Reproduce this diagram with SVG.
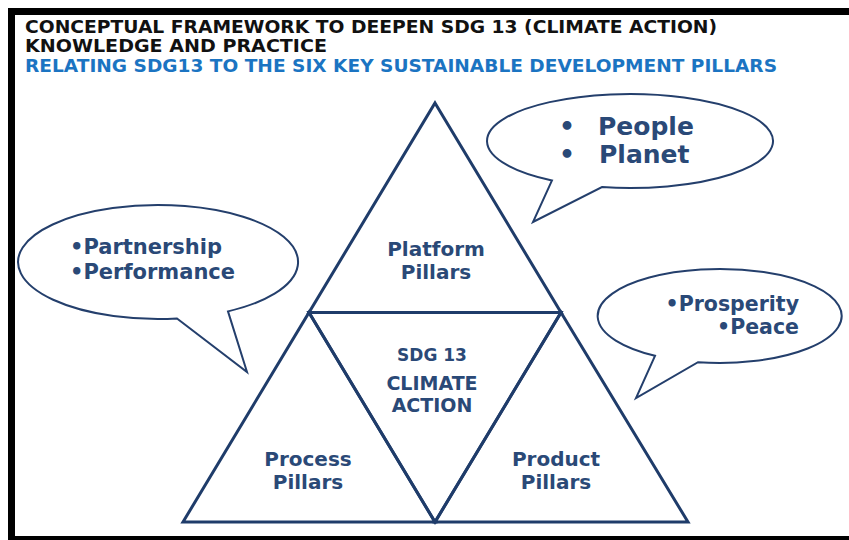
<svg xmlns="http://www.w3.org/2000/svg" width="849" height="540" viewBox="0 0 849 540">
  <style>
    .frame { fill: #000000; }
    .title { font-family: "DejaVu Sans", "Liberation Sans", sans-serif; font-weight: bold; font-size: 17px; fill: #111111; }
    .subtitle { fill: #1b74c2; }
    .tri { fill: none; stroke: #1f3c6a; stroke-width: 3; stroke-linejoin: miter; }
    .bubble { fill: #ffffff; stroke: #243f6c; stroke-width: 2; stroke-linejoin: miter; }
    .lbl { font-family: "DejaVu Sans", "Liberation Sans", sans-serif; font-weight: bold; fill: #2a4977; }
    .pillar { font-size: 20px; text-anchor: middle; }
    .centre { text-anchor: middle; }
  </style>
  <rect x="0" y="0" width="849" height="540" fill="#ffffff"/>
  <g id="frame">
    <rect class="frame" x="8" y="8" width="841" height="7"/>
    <rect class="frame" x="8" y="8" width="7" height="532"/>
    <rect class="frame" x="8" y="536" width="841" height="4"/>
  </g>
  <g id="title">
    <text class="title" x="25" y="33" textLength="692" lengthAdjust="spacingAndGlyphs">CONCEPTUAL FRAMEWORK TO DEEPEN SDG 13 (CLIMATE ACTION)</text>
    <text class="title" x="25" y="52" textLength="302" lengthAdjust="spacingAndGlyphs">KNOWLEDGE AND PRACTICE</text>
    <text class="title subtitle" x="25" y="72" textLength="752" lengthAdjust="spacingAndGlyphs">RELATING SDG13 TO THE SIX KEY SUSTAINABLE DEVELOPMENT PILLARS</text>
  </g>
  <g id="platform-pillars">
    <polygon class="tri" points="435,103 561,312.5 309,312.5"/>
    <text class="lbl pillar" x="436" y="256">Platform</text>
    <text class="lbl pillar" x="436" y="279">Pillars</text>
  </g>
  <g id="process-pillars">
    <polygon class="tri" points="309,312.5 435,522 183,522"/>
    <text class="lbl pillar" x="308" y="466">Process</text>
    <text class="lbl pillar" x="308" y="489">Pillars</text>
  </g>
  <g id="product-pillars">
    <polygon class="tri" points="561,312.5 688,522 435,522"/>
    <text class="lbl pillar" x="556" y="466">Product</text>
    <text class="lbl pillar" x="556" y="489">Pillars</text>
  </g>
  <g id="sdg13-climate-action">
    <polygon class="tri" points="309,312.5 561,312.5 435,522"/>
    <text class="lbl centre" x="432" y="361" font-size="17">SDG 13</text>
    <text class="lbl centre" x="432" y="390" font-size="19">CLIMATE</text>
    <text class="lbl centre" x="432" y="412" font-size="19">ACTION</text>
  </g>
  <g id="bubble-people-planet">
    <path class="bubble" d="M 552,180.4 L 533,222 L 602,187.1 A 143 47 0 1 0 552,180.4 Z"/>
    <text class="lbl" x="567" y="135" font-size="25" text-anchor="middle">•</text>
    <text class="lbl" x="598" y="135" font-size="25">People</text>
    <text class="lbl" x="567" y="163" font-size="25" text-anchor="middle">•</text>
    <text class="lbl" x="599" y="163" font-size="25">Planet</text>
  </g>
  <g id="bubble-partnership-performance">
    <path class="bubble" d="M 177,318.5 L 247,372 L 228,311.4 A 140 57 0 1 0 177,318.5 Z"/>
    <text class="lbl" x="70" y="254" font-size="21">•Partnership</text>
    <text class="lbl" x="70" y="279" font-size="21">•Performance</text>
  </g>
  <g id="bubble-prosperity-peace">
    <path class="bubble" d="M 655,355.8 L 636,398 L 698,362.2 A 122 47 0 1 0 655,355.8 Z"/>
    <text class="lbl" x="799" y="311" font-size="20.5" text-anchor="end">•Prosperity</text>
    <text class="lbl" x="799" y="334" font-size="20.5" text-anchor="end">•Peace</text>
  </g>
</svg>
